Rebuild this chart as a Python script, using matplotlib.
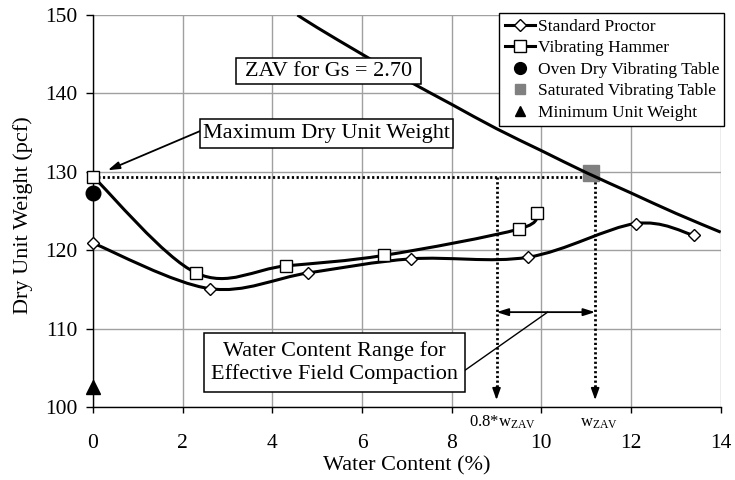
import numpy as np
import matplotlib
matplotlib.use('Agg')
import matplotlib.pyplot as plt
from matplotlib.path import Path
from matplotlib.patches import PathPatch, Rectangle
from matplotlib.lines import Line2D

# ---------------- data ----------------
proctor_w = [0.0, 2.6, 4.8, 7.1, 9.7, 12.1, 13.4]
proctor_gd = [120.9, 115.1, 117.1, 118.9, 119.1, 123.4, 121.9]

hammer_w = [0.0, 2.3, 4.3, 6.5, 9.5, 9.9]
hammer_gd = [129.4, 117.1, 118.0, 119.35, 122.7, 124.8]

oven_dry_w = [0.0]
oven_dry_gd = [127.3]

saturated_w = [11.1]
saturated_gd = [129.8]

minimum_w = [0.0]
minimum_gd = [102.6]

zav_w = [4.56, 5.0, 6.0, 7.0, 8.0, 9.0, 10.0, 11.0, 12.0, 13.0, 14.0]
zav_gd = [150.0, 148.4, 145.0, 141.7, 138.6, 135.5, 132.7, 129.9, 127.3, 124.7, 122.3]

max_dry_gd = 129.4
w_zav = 11.2
w_zav_08 = 9.0
range_level = 112.1

x_ticks = [0, 2, 4, 6, 8, 10, 12, 14]
y_ticks = [100, 110, 120, 130, 140, 150]

legend_labels = ["Standard Proctor", "Vibrating Hammer", "Oven Dry Vibrating Table",
                 "Saturated Vibrating Table", "Minimum Unit Weight"]

# ---------------- style ----------------
plt.rcParams['font.family'] = ['Liberation Serif', 'DejaVu Serif']
plt.rcParams['mathtext.fontset'] = 'custom'
plt.rcParams['mathtext.rm'] = 'Liberation Serif'
plt.rcParams['mathtext.it'] = 'Liberation Serif:italic'

LW = 2.2
BOX_FS = 16
TICK_FS = 15.5
LABEL_FS = 16


def smooth_path(xs, ys):
    pts = np.column_stack([xs, ys]).astype(float)
    n = len(pts)
    verts = [pts[0]]
    codes = [Path.MOVETO]
    for i in range(n - 1):
        p0 = pts[i - 1] if i > 0 else pts[i]
        p1 = pts[i]
        p2 = pts[i + 1]
        p3 = pts[i + 2] if i + 2 < n else pts[i + 1]
        c1 = p1 + (p2 - p0) / 6.0
        c2 = p2 - (p3 - p1) / 6.0
        verts += [c1, c2, p2]
        codes += [Path.CURVE4] * 3
    return Path(verts, codes)


fig = plt.figure(figsize=(7.35, 4.8), dpi=100)
ax = fig.add_axes([93 / 735, 1 - 407 / 480, 627.7 / 735, 392 / 480])

ax.set_xlim(0, 14)
ax.set_ylim(100, 150)
ax.set_xticks(x_ticks)
ax.set_yticks(y_ticks)
ax.grid(True, color='#a0a0a0', lw=1.0, zorder=0)
ax.set_axisbelow(True)
for s in ['top', 'right']:
    ax.spines[s].set_visible(False)
for s in ['left', 'bottom']:
    ax.spines[s].set_linewidth(1.0)
    ax.spines[s].set_zorder(1)
ax.tick_params(axis='x', direction='out', length=4.5, width=1, labelsize=TICK_FS, pad=15)
ax.tick_params(axis='y', direction='out', length=4.7, width=1, labelsize=TICK_FS, pad=6.5)

ax.set_xlabel('Water Content (%)', fontsize=LABEL_FS)
ax.set_ylabel('Dry Unit Weight (pcf)', fontsize=LABEL_FS)
ax.xaxis.set_label_coords(0.5, -0.126)
ax.yaxis.set_label_coords(-0.096, 0.49)

# ZAV curve
ax.add_patch(PathPatch(smooth_path(zav_w, zav_gd), fill=False, edgecolor='black', lw=LW, zorder=4))

# smoothed curves
ax.add_patch(PathPatch(smooth_path(proctor_w, proctor_gd), fill=False, edgecolor='black', lw=LW, zorder=3))
ax.add_patch(PathPatch(smooth_path(hammer_w, hammer_gd), fill=False, edgecolor='black', lw=LW, zorder=3))

# dotted guide lines
dot = (0, (0.8, 0.9))
ax.plot([0, saturated_w[0]], [max_dry_gd, max_dry_gd], color='black', lw=2.0, ls=dot, zorder=2, clip_on=False)
for xv in [w_zav_08, w_zav]:
    ax.plot([xv, xv], [max_dry_gd, 102.2], color='black', lw=2.0, ls=dot, zorder=2)
    ax.annotate('', xy=(xv, 100.9), xytext=(xv, 102.6),
                arrowprops=dict(arrowstyle='-|>,head_length=0.7,head_width=0.25',
                                color='black', lw=1.2, shrinkA=0, shrinkB=0), zorder=2)

# markers
ax.plot(saturated_w, saturated_gd, ls='none', marker='s', ms=11, mfc='#808080', mec='#808080', zorder=3.5, clip_on=False)
ax.plot(oven_dry_w, oven_dry_gd, ls='none', marker='o', ms=10.5, mfc='black', mec='black', zorder=5, clip_on=False)
ax.plot(minimum_w, minimum_gd, ls='none', marker='^', ms=10.5, mfc='black', mec='black', zorder=5, clip_on=False)
ax.plot(proctor_w, proctor_gd, ls='none', marker='D', ms=5.8, mfc='white', mec='black', mew=1.0, zorder=5, clip_on=False)
ax.plot(hammer_w, hammer_gd, ls='none', marker='s', ms=8.2, mfc='white', mec='black', mew=1.0, zorder=5.5, clip_on=False)

# range double arrow and leader
ax.annotate('', xy=(w_zav_08, range_level), xytext=(w_zav, range_level),
            arrowprops=dict(arrowstyle='<|-|>,head_length=0.7,head_width=0.22',
                            color='black', lw=1.3, shrinkA=0, shrinkB=0), zorder=4)
ax.plot([10.14, 8.3], [range_level, 104.7], color='black', lw=1.0, zorder=4)

# max dry unit weight arrow
ax.annotate('', xy=(0.33, 130.2), xytext=(2.39, 135.2),
            arrowprops=dict(arrowstyle='-|>,head_length=0.7,head_width=0.22',
                            color='black', lw=1.3, shrinkA=0, shrinkB=0), zorder=4)


def text_box(x0, x1, y0, y1, txt):
    ax.add_patch(Rectangle((x0, y0), x1 - x0, y1 - y0, facecolor='white', edgecolor='black', lw=1.1, zorder=6))
    ax.text((x0 + x1) / 2, (y0 + y1) / 2, txt, ha='center', va='center', fontsize=BOX_FS,
            zorder=7, linespacing=1.2)


text_box(3.19, 7.31, 141.2, 144.5, 'ZAV for Gs = 2.70')
text_box(2.39, 8.04, 133.0, 136.7, 'Maximum Dry Unit Weight')
text_box(2.48, 8.30, 101.9, 109.4, 'Water Content Range for\nEffective Field Compaction')

# labels beneath the axis
ax.text(9.13, 97.49, r'0.8*w$_{\mathrm{ZAV}}$', ha='center', va='baseline', fontsize=12, clip_on=False)
ax.text(11.28, 97.49, r'w$_{\mathrm{ZAV}}$', ha='center', va='baseline', fontsize=12, clip_on=False)

# legend
handles = [
    Line2D([], [], color='black', lw=LW, marker='D', ms=5.8, mfc='white', mec='black', mew=1.0),
    Line2D([], [], color='black', lw=LW, marker='s', ms=8, mfc='white', mec='black', mew=1.0),
    Line2D([], [], ls='none', marker='o', ms=8.5, mfc='black', mec='black'),
    Line2D([], [], ls='none', marker='s', ms=7.2, mfc='#808080', mec='#808080'),
    Line2D([], [], ls='none', marker='^', ms=7.5, mfc='black', mec='black'),
]
leg = ax.legend(handles, legend_labels, loc='upper right', bbox_to_anchor=(724.3 / 735, 1 - 13.3 / 480),
                bbox_transform=fig.transFigure, borderaxespad=0, fontsize=12.5, frameon=True,
                fancybox=False, shadow=False, handlelength=1.75, handletextpad=0.15,
                labelspacing=0.31, borderpad=0.3, framealpha=1)
leg.get_frame().set_edgecolor('black')
leg.get_frame().set_linewidth(1.0)
leg.set_zorder(10)

fig.savefig('out.png', dpi=100)
